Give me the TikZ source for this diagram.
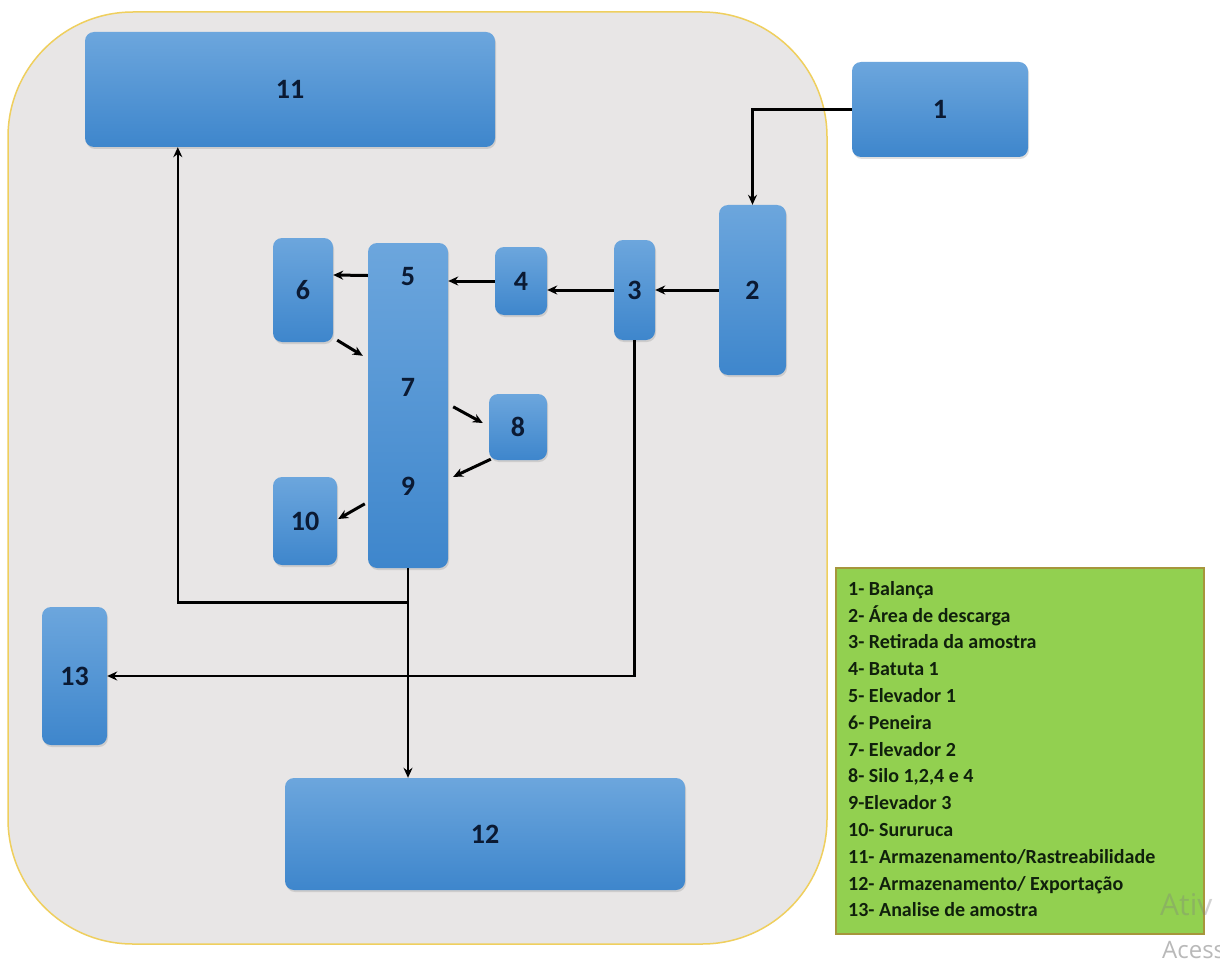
\documentclass[tikz,border=0pt]{standalone}
\usepackage{fontspec}
\setmainfont{Carlito}
\newfontfamily\wmfont{Open Sans}
\usetikzlibrary{arrows.meta,shadows,calc}
\definecolor{bgfill}{HTML}{E8E6E6}
\definecolor{bgline}{HTML}{EFCF5E}
\definecolor{btop}{HTML}{6CA6DD}
\definecolor{bbot}{HTML}{3E86CC}
\definecolor{numc}{HTML}{0B1A33}
\definecolor{legfill}{HTML}{92D050}
\definecolor{legline}{HTML}{A6963C}
\definecolor{legtext}{HTML}{10200C}
\tikzset{
 blk/.style={rounded corners=9pt, top color=btop, bottom color=bbot, draw=none,
   drop shadow={opacity=0.25, shadow xshift=1pt, shadow yshift=-2pt},
   inner sep=0pt, text=numc, font=\fontsize{28}{28}\selectfont\bfseries},
 lbl/.style={text=numc, font=\fontsize{28}{28}\selectfont\bfseries, inner sep=0pt},
 arr/.style={line width=3pt, -{Stealth[length=10pt,width=9pt]}},
 larr/.style={line width=2.6pt, -{Stealth[length=10pt,width=9pt]}},
 ln/.style={line width=2.6pt},
}
\begin{document}
\begin{tikzpicture}[x=1pt,y=-1pt]
\useasboundingbox (0,0) rectangle (1220,960);
\clip (0,0) rectangle (1220,960);
\fill[white] (0,0) rectangle (1220,960);
% container
\draw[bgline, fill=bgfill, line width=1.5pt, rounded corners=125pt] (8,12) rectangle (827,944);

% blocks
\node[blk, minimum width=176pt, minimum height=95pt] (n1) at (940,109.5) {1};
\node[blk, minimum width=67pt, minimum height=170pt] (n2) at (752.5,290) {2};
\node[blk, minimum width=41pt, minimum height=100pt] (n3) at (634.5,290) {3};
\node[blk, minimum width=52pt, minimum height=68pt] (n4) at (521,281) {4};
\node[blk, minimum width=80pt, minimum height=325pt] (big) at (408,405.5) {};
\node[lbl] (l5) at (408,277) {5};
\node[lbl] (l7) at (408,387) {7};
\node[lbl] (l9) at (408,486) {9};
\node[blk, minimum width=60pt, minimum height=104pt] (n6) at (303,290) {6};
\node[blk, minimum width=58pt, minimum height=66pt] (n8) at (518,427) {8};
\node[blk, minimum width=64pt, minimum height=88pt] (n10) at (305,521) {10};
\node[blk, minimum width=410pt, minimum height=115pt] (n11) at (290,89.5) {11};
\node[blk, minimum width=400pt, minimum height=112pt] (n12) at (485,834) {12};
\node[blk, minimum width=65pt, minimum height=138pt] (n13) at (74.5,676) {13};

% connectors
\draw[larr] (n1.west) -| (n2.north);
\draw[arr] (n2.west) -- (n3.east);
\draw[arr] (n3.west) -- (n3.west -| n4.east);
\draw[arr] (n4.west) -- (n4.west -| big.east);
\draw[arr] ($(big.west)+(0,-130)$) -- ($(n6.east)+(0,-15)$);
\draw[arr] ($(n6.south east)+(4,-2)$) -- ($(big.north west)+(-5,113)$);
\draw[arr] ($(big.north east)+(5,164)$) -- ($(n8.west)+(-6,-4)$);
\draw[arr] ($(n8.south west)+(2,-1)$) -- ($(big.north east)+(5,234)$);
\draw[arr] ($(big.north west)+(-3,261)$) -- ($(n10.east)+(1,-2)$);

\coordinate (j9) at ($(big.south)+(0,34)$);
\coordinate (e11) at ($(n11.south west)+(93,0)$);
\draw[ln] (big.south) -- (j9);
\draw[larr] (j9) -| (e11);
\draw[larr] (j9) -- (j9 |- n12.north);
\draw[larr] (n3.south) |- (n13.east);

% legend
\node[draw=legline, fill=legfill, line width=2pt, minimum width=368pt, minimum height=366pt,
  inner sep=0pt, anchor=north west] (leg) at (835,567) {};
\node[anchor=north west, align=left, inner sep=0pt, text=legtext,
  font=\fontsize{20}{26.8}\selectfont\bfseries] (legtxt) at (848,581) {%
1- Balança\\
2- Área de descarga\\
3- Retirada da amostra\\
4- Batuta 1\\
5- Elevador 1\\
6- Peneira\\
7- Elevador 2\\
8- Silo 1,2,4 e 4\\
9-Elevador 3\\
10- Sururuca\\
11- Armazenamento/Rastreabilidade\\
12- Armazenamento/ Exportação\\
13- Analise de amostra};

% watermark (cut off at the picture's edge, as in the reference)
\node[anchor=west, inner sep=0pt, text=gray, opacity=0.35, font=\wmfont\fontsize{30}{30}\selectfont] (wm1) at (1160,905) {Ativ};
\node[anchor=west, inner sep=0pt, text=gray!55, font=\wmfont\fontsize{24}{24}\selectfont] (wm2) at (1162,950) {Acess};
\end{tikzpicture}
\end{document}
